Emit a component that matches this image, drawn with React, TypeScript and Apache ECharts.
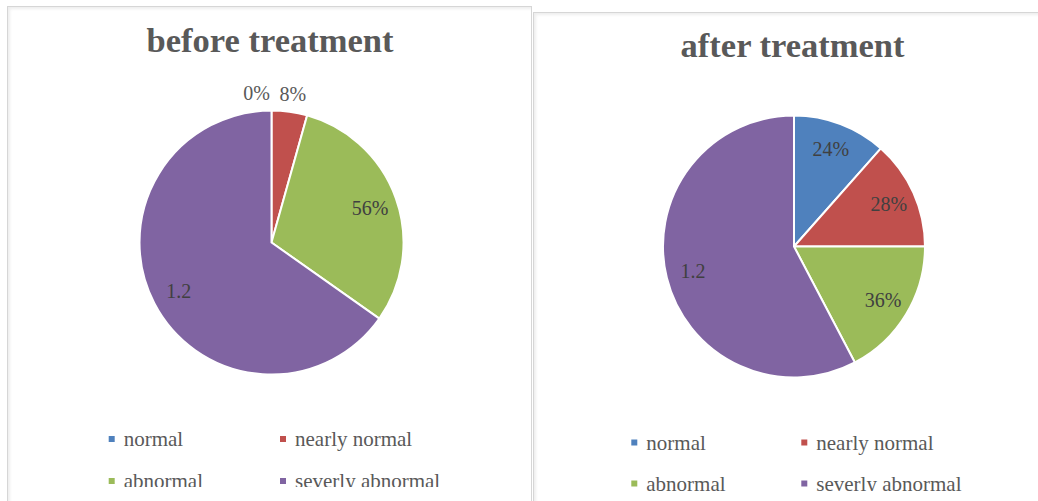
import React, { useEffect, useRef } from "react";
import * as echarts from "echarts";

// Outcome categories and the theme colour of each
const categories = ["normal", "nearly normal", "abnormal", "severly abnormal"];
const sliceColors = ["#4F81BD", "#C0504D", "#9BBB59", "#8064A2"];

// Share of patients per category before and after treatment
const beforeValues = [0, 0.08, 0.56, 1.2];
const afterValues = [0.24, 0.28, 0.36, 1.2];

// Which slices carry their label outside the pie
const beforeOutside = [true, true, false, false];
const afterOutside = [false, false, false, false];

const FONT = '"Liberation Serif", "DejaVu Serif", serif';

const formatValue = (v: number) => (v <= 1 ? `${Math.round(v * 100)}%` : String(v));

type Geometry = {
  center: [number, number];
  radius: number;
  titleTop: number;
  legendLeft: [number, number];
  legendTop: number;
  rowPitch: number;
};

function buildOption(title: string, values: number[], outside: boolean[], g: Geometry) {
  const mainData = categories.map((name, i) => ({
    name,
    value: values[i],
    itemStyle: { color: sliceColors[i] },
    label: { show: outside[i] },
  }));
  const labelData = categories.map((name, i) => ({
    name,
    value: values[i],
    label: { show: !outside[i] },
  }));
  // legend laid out as a 2 x 2 grid: one legend component per entry
  const legends = categories.map((name, i) => ({
    orient: "horizontal" as const,
    left: g.legendLeft[i % 2],
    top: g.legendTop + Math.floor(i / 2) * g.rowPitch,
    padding: 0,
    itemWidth: 8,
    itemHeight: 8,
    icon: "rect",
    selectedMode: false,
    data: [{ name, itemStyle: { color: sliceColors[i] } }],
    textStyle: {
      fontFamily: FONT,
      fontSize: 21,
      lineHeight: 20,
      color: "#595959",
      padding: [0, 0, 0, 3],
    },
  }));
  return {
    animation: false,
    textStyle: { fontFamily: FONT },
    title: {
      text: title,
      left: "center",
      top: g.titleTop,
      padding: 0,
      textStyle: { fontFamily: FONT, fontSize: 34.5, fontWeight: "bold", color: "#595959" },
    },
    legend: legends,
    series: [
      {
        type: "pie",
        center: g.center,
        radius: g.radius,
        startAngle: 90,
        clockwise: true,
        avoidLabelOverlap: false,
        silent: true,
        emphasis: { disabled: true },
        itemStyle: { borderColor: "#ffffff", borderWidth: 2 },
        label: {
          position: "outside",
          distanceToLabelLine: 0,
          fontFamily: FONT,
          fontSize: 20,
          color: "#595959",
          formatter: (p: any) => formatValue(p.value),
        },
        labelLine: { show: false, length: 18, length2: 0 },
        labelLayout: (p: any) => {
          if (!outside[p.dataIndex]) return {};
          // first outside label sits to the left of the top edge, the next one to its right
          return p.dataIndex === 0 ? { align: "right", dx: -1.5 } : { dx: -12.5 };
        },
        data: mainData,
      },
      {
        // transparent ring that carries the inside labels at ~3/4 of the radius
        type: "pie",
        center: g.center,
        radius: [71, g.radius],
        startAngle: 90,
        clockwise: true,
        silent: true,
        emphasis: { disabled: true },
        itemStyle: { color: "rgba(0,0,0,0)", borderWidth: 0 },
        label: {
          position: "inside",
          fontFamily: FONT,
          fontSize: 20,
          color: "#404040",
          formatter: (p: any) => formatValue(p.value),
        },
        labelLine: { show: false },
        data: labelData,
      },
    ],
  };
}

function PieChart({ option, style }: { option: any; style: React.CSSProperties }) {
  const ref = useRef<HTMLDivElement>(null);
  useEffect(() => {
    if (!ref.current) return;
    const chart = echarts.init(ref.current, undefined, { renderer: "svg" });
    chart.setOption(option);
    return () => chart.dispose();
  }, [option]);
  return <div ref={ref} style={style} />;
}

const beforeOption = buildOption("before treatment", beforeValues, beforeOutside, {
  center: [263.5, 242.5],
  radius: 132,
  titleTop: 22,
  legendLeft: [98.7, 270],
  legendTop: 428.5,
  rowPitch: 42,
});

const afterOption = buildOption("after treatment", afterValues, afterOutside, {
  center: [247, 246.5],
  radius: 131,
  titleTop: 27,
  legendLeft: [82.3, 252.3],
  legendTop: 432,
  rowPitch: 41,
});

const panelStyle: React.CSSProperties = {
  position: "absolute",
  border: "1px solid #d6d6d6",
  boxShadow: "inset 2px 2px 3px rgba(0,0,0,0.07)",
  background: "#ffffff",
  boxSizing: "border-box",
};

export default function App() {
  return (
    <div
      style={{
        position: "fixed",
        left: 0,
        top: 0,
        width: 1038,
        height: 501,
        overflow: "hidden",
        background: "#ffffff",
      }}
    >
      <div style={{ ...panelStyle, left: 7, top: 6, width: 525, height: 620 }} />
      <div style={{ ...panelStyle, left: 533, top: 12, width: 620, height: 620 }} />
      <PieChart
        option={beforeOption}
        style={{ position: "absolute", left: 8, top: 0, width: 524, height: 487 }}
      />
      <PieChart
        option={afterOption}
        style={{ position: "absolute", left: 547, top: 0, width: 491, height: 491 }}
      />
    </div>
  );
}
